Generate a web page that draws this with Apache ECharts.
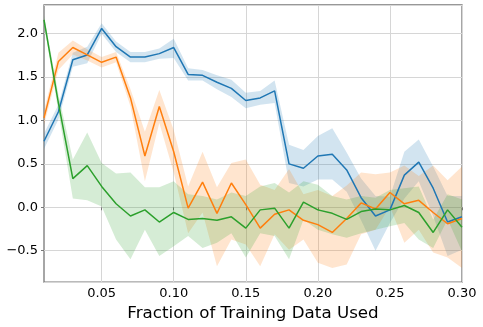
<!DOCTYPE html>
<html>
<head>
<meta charset="utf-8">
<script src="https://cdn.jsdelivr.net/npm/echarts@6/dist/echarts.min.js"></script>
<style>
    html, body { margin: 0; padding: 0; background: #fff; }
    #chart { width: 483px; height: 327px; }
</style>
</head>
<body>
<div id="chart"></div>
<script>
/* ===========================
   Data
=========================== */

const fractions = ["0.01", "0.02", "0.03", "0.04", "0.05", "0.06", "0.07", "0.08", "0.09", "0.10",
    "0.11", "0.12", "0.13", "0.14", "0.15", "0.16", "0.17", "0.18", "0.19", "0.20",
    "0.21", "0.22", "0.23", "0.24", "0.25", "0.26", "0.27", "0.28", "0.29", "0.30"];

const blueMean = [0.76, 1.10, 1.70, 1.755, 2.06, 1.85, 1.73, 1.73, 1.77, 1.84, 1.53, 1.52, 1.44, 1.37, 1.23,
    1.26, 1.34, 0.50, 0.45, 0.59, 0.61, 0.43, 0.11, -0.10, -0.03, 0.37, 0.52, 0.22, -0.17, -0.11];
const blueLow = [0.67, 1.01, 1.62, 1.66, 2.00, 1.79, 1.67, 1.67, 1.71, 1.72, 1.46, 1.46, 1.36, 1.27, 1.14,
    1.18, 1.20, 0.28, 0.24, 0.32, 0.32, 0.18, -0.15, -0.50, -0.18, 0.10, 0.30, -0.10, -0.56, -0.49];
const blueHigh = [0.85, 1.18, 1.78, 1.85, 2.12, 1.91, 1.79, 1.79, 1.83, 1.94, 1.60, 1.58, 1.52, 1.47, 1.32,
    1.34, 1.46, 0.72, 0.66, 0.82, 0.91, 0.63, 0.33, 0.13, 0.12, 0.64, 0.78, 0.47, 0.13, 0.13];

const orangeMean = [1.03, 1.68, 1.84, 1.755, 1.67, 1.73, 1.26, 0.59, 1.16, 0.64, -0.01, 0.29, -0.07, 0.28, 0.03,
    -0.24, -0.08, -0.03, -0.15, -0.20, -0.29, -0.13, 0.05, -0.02, 0.17, 0.04, 0.08, -0.06, -0.19, -0.13];
const orangeLow = [0.95, 1.58, 1.76, 1.69, 1.61, 1.67, 1.16, 0.30, 0.97, 0.40, -0.30, -0.06, -0.68, -0.37, -0.43,
    -0.68, -0.31, -0.49, -0.37, -0.64, -0.70, -0.66, -0.31, -0.26, 0.01, -0.41, -0.26, -0.52, -0.58, -0.70];
const orangeHigh = [1.11, 1.78, 1.92, 1.82, 1.73, 1.79, 1.36, 0.87, 1.35, 0.89, 0.24, 0.64, 0.23, 0.51, 0.55,
    0.26, 0.20, 0.44, 0.15, 0.20, 0.13, 0.25, 0.40, 0.38, 0.40, 0.48, 0.36, 0.48, 0.31, 0.47];

const greenMean = [2.16, 1.20, 0.33, 0.48, 0.24, 0.04, -0.10, -0.03, -0.17, -0.06, -0.14, -0.13, -0.15, -0.11, -0.24,
    -0.03, -0.01, -0.24, 0.06, -0.03, -0.07, -0.14, -0.05, -0.02, -0.03, 0.02, -0.06, -0.29, -0.03, -0.23];
const greenLow = [2.11, 1.10, 0.10, 0.08, 0.01, -0.37, -0.60, -0.26, -0.56, -0.45, -0.33, -0.47, -0.41, -0.30, -0.58,
    -0.30, -0.33, -0.60, -0.14, -0.26, -0.31, -0.35, -0.30, -0.26, -0.22, -0.18, -0.37, -0.47, -0.14, -0.51];
const greenHigh = [2.21, 1.30, 0.55, 0.86, 0.51, 0.39, 0.40, 0.23, 0.23, 0.30, 0.15, 0.13, 0.09, 0.17, 0.13,
    0.24, 0.28, 0.17, 0.30, 0.26, 0.13, 0.09, 0.13, 0.11, 0.20, 0.22, 0.24, -0.14, 0.15, 0.09];

const xTickLabels = ["0.05", "0.10", "0.15", "0.20", "0.25", "0.30"];

const FONT = "DejaVu Sans";

/* ===========================
   Series helpers
=========================== */

function band(name, low, high, color) {

    return [{
        name: name + "-low",
        type: "line",
        stack: name,
        stackStrategy: "all",
        symbol: "none",
        silent: true,
        lineStyle: { opacity: 0 },
        data: low
    }, {
        name: name + "-band",
        type: "line",
        stack: name,
        stackStrategy: "all",
        symbol: "none",
        silent: true,
        lineStyle: { opacity: 0 },
        areaStyle: { color: color, opacity: 0.2 },
        data: high.map((h, i) => h - low[i])
    }];

}

function meanLine(name, data, color) {

    return {
        name: name,
        type: "line",
        symbol: "none",
        z: 5,
        lineStyle: { width: 1.5, color: color },
        data: data
    };

}

const showTick = (index, value) => xTickLabels.indexOf(value) !== -1;

/* ===========================
   Chart
=========================== */

const chart = echarts.init(document.getElementById("chart"));

chart.setOption({

    animation: false,

    grid: {
        left: 44,
        right: 21,
        top: 5,
        bottom: 44,
        show: true,
        borderColor: "#777",
        borderWidth: 1.3
    },

    xAxis: {
        type: "category",
        boundaryGap: false,
        data: fractions,
        axisLine: { show: false },
        axisTick: {
            show: true,
            interval: showTick,
            length: 3,
            lineStyle: { color: "#777" }
        },
        axisLabel: {
            interval: showTick,
            color: "#000",
            fontFamily: FONT,
            fontSize: 13,
            margin: 5
        },
        splitLine: {
            show: true,
            interval: showTick,
            lineStyle: { color: "#d6d6d6", width: 1 }
        },
        name: "Fraction of Training Data Used",
        nameLocation: "middle",
        nameGap: 20,
        nameTextStyle: {
            color: "#000",
            fontFamily: FONT,
            fontSize: 16.7
        }
    },

    yAxis: {
        type: "value",
        min: -0.862,
        max: 2.33,
        splitNumber: 6,
        axisLine: { show: false },
        axisTick: {
            show: true,
            length: 3,
            lineStyle: { color: "#777" }
        },
        axisLabel: {
            showMinLabel: false,
            showMaxLabel: false,
            color: "#000",
            fontFamily: FONT,
            fontSize: 13,
            margin: 6,
            formatter: v => {
                if (Math.abs(v * 2 - Math.round(v * 2)) > 1e-6) return "";
                return v.toFixed(1).replace("-", "\u2212");
            }
        },
        splitLine: {
            lineStyle: { color: "#d6d6d6", width: 1 }
        }
    },

    series: [
        ...band("blue", blueLow, blueHigh, "#1f77b4"),
        ...band("orange", orangeLow, orangeHigh, "#ff7f0e"),
        ...band("green", greenLow, greenHigh, "#2ca02c"),
        meanLine("blue", blueMean, "#1f77b4"),
        meanLine("orange", orangeMean, "#ff7f0e"),
        meanLine("green", greenMean, "#2ca02c")
    ]

});
</script>
</body>
</html>
